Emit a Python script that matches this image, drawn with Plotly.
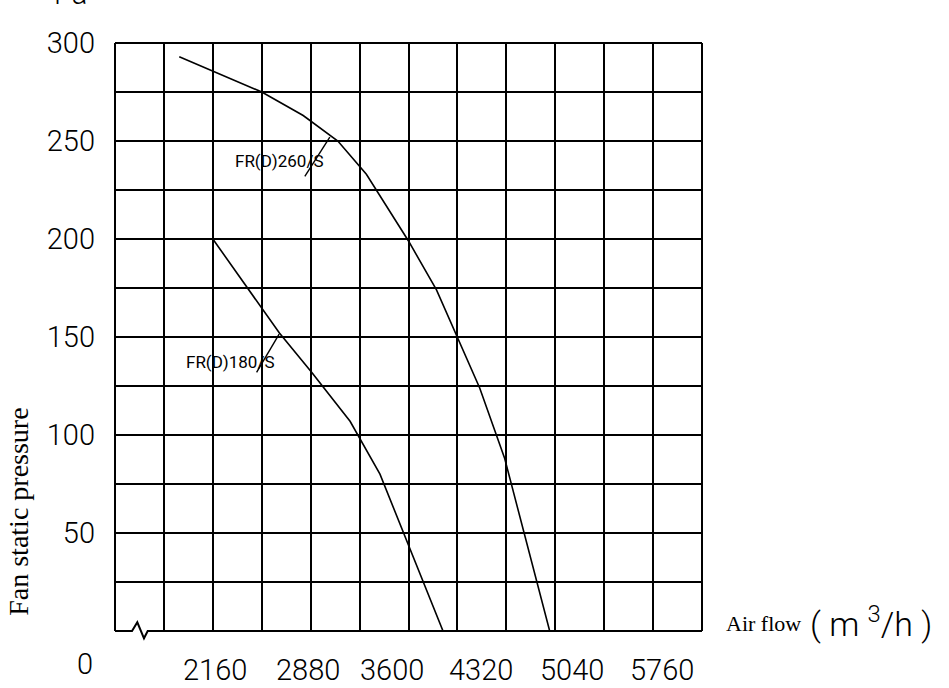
import plotly.graph_objects as go

# ---------------- data ----------------
fr260_flow = [1913, 2520, 2825, 3080, 3290, 3600, 3806, 3965, 4124, 4308, 4639]
fr260_pressure = [293, 275, 263, 250, 233, 199, 174, 149, 124, 88, 0]

fr180_flow = [2160, 2650, 2887, 3170, 3390, 3854]
fr180_pressure = [200, 152, 132, 107, 80, 0]

x_tick_values = [2160, 2880, 3600, 4320, 5040, 5760]
x_tick_labels = ["2160", "2880", "3600", "4320", "5040", "5760"]
y_tick_values = [50, 100, 150, 200, 250, 300]
y_tick_labels = ["50", "100", "150", "200", "250", "300"]
y_minor_values = [25, 75, 125, 175, 225, 275]

series_names = ["FR(D)260/S", "FR(D)180/S"]

# ---------------- layout / style ----------------
NUM_FONT = "Roboto, Liberation Sans, sans-serif"
SERIF = "Liberation Serif, Times New Roman, serif"
X_MIN, X_MAX = 1440, 5760
# horizontal offsets (px) of the hand-placed x labels in the drawing
x_label_shift = [2, -3, -17, -25, -32, -40]

num_font = dict(family=NUM_FONT, size=29, color="black", weight=300)

fig = go.Figure()
fig.add_trace(go.Scatter(x=fr260_flow, y=fr260_pressure, mode="lines",
                         line=dict(color="black", width=1.6), name=series_names[0],
                         showlegend=False))
fig.add_trace(go.Scatter(x=fr180_flow, y=fr180_pressure, mode="lines",
                         line=dict(color="black", width=1.6), name=series_names[1],
                         showlegend=False))

fig.update_xaxes(range=[X_MIN, X_MAX], tickmode="linear", tick0=X_MIN, dtick=360,
                 showgrid=True, gridcolor="black", gridwidth=2,
                 showticklabels=False, zeroline=False, showline=False, ticks="")
fig.update_yaxes(range=[0, 300], tickvals=y_tick_values, ticktext=y_tick_labels,
                 showgrid=True, gridcolor="black", gridwidth=2,
                 minor=dict(tickvals=y_minor_values, showgrid=True,
                            gridcolor="black", gridwidth=2, ticks=""),
                 zeroline=False, showline=False, ticks="",
                 ticklabelstandoff=19, tickfont=num_font)

shapes = []
# frame (left, top, right)
shapes.append(dict(type="line", xref="paper", yref="paper", x0=0, y0=0, x1=0, y1=1,
                   line=dict(color="black", width=2)))
shapes.append(dict(type="line", xref="paper", yref="paper", x0=0, y0=1, x1=1, y1=1,
                   line=dict(color="black", width=2)))
shapes.append(dict(type="line", xref="paper", yref="paper", x0=1, y0=0, x1=1, y1=1,
                   line=dict(color="black", width=2)))
# bottom line with axis-break zigzag
shapes.append(dict(type="path", xref="paper", yref="paper",
                   path="M 0,0 L 0.029,0 L 0.038,0.0148 L 0.0494,-0.0124 L 0.0557,0 L 1,0",
                   line=dict(color="black", width=2)))
# leader lines for the curve labels
shapes.append(dict(type="line", xref="x", yref="y", x0=2837, y0=232, x1=3021, y1=252,
                   line=dict(color="black", width=1.4)))
shapes.append(dict(type="line", xref="x", yref="y", x0=2482, y0=132, x1=2648, y1=151.5,
                   line=dict(color="black", width=1.4)))

label_font = dict(family=NUM_FONT, size=17, color="black")
ann = []
ann.append(dict(x=2653, y=240, xref="x", yref="y", text=series_names[0], showarrow=False,
                xanchor="center", yanchor="middle", font=label_font))
ann.append(dict(x=2293, y=137, xref="x", yref="y", text=series_names[1], showarrow=False,
                xanchor="center", yanchor="middle", font=label_font))
for v, t, s in zip(x_tick_values, x_tick_labels, x_label_shift):
    ann.append(dict(x=v, y=-0.0664, xref="x", yref="paper", text=t, showarrow=False,
                    xshift=s, xanchor="center", yanchor="middle", font=num_font))
ann.append(dict(x=-0.051, y=-0.0567, xref="paper", yref="paper", text="0", showarrow=False,
                xanchor="center", yanchor="middle", font=num_font))
ann.append(dict(x=-0.075, y=1.051, xref="paper", yref="paper", text="Pa", showarrow=False,
                xanchor="center", yanchor="bottom", font=num_font))
ann.append(dict(x=1.105, y=0.0131, xref="paper", yref="paper", text="Air flow",
                showarrow=False, xanchor="center", yanchor="middle",
                font=dict(family=SERIF, size=22, color="black")))
ann.append(dict(x=1.288, y=0.0148, xref="paper", yref="paper",
                text="( m <sup>3</sup>/h )", showarrow=False, xanchor="center",
                yanchor="middle",
                font=dict(family=NUM_FONT, size=34, color="black", weight=300)))
ann.append(dict(x=-0.165, y=0.203, xref="paper", yref="paper", text="Fan static pressure",
                showarrow=False, textangle=-90, xanchor="center", yanchor="middle",
                font=dict(family=SERIF, size=28, color="black")))

fig.update_layout(width=949, height=688,
                  margin=dict(l=115, r=246.6, t=43.3, b=57.3),
                  paper_bgcolor="white", plot_bgcolor="white",
                  shapes=shapes, annotations=ann, showlegend=False)

fig.write_html("out.html", config={"displayModeBar": False},
               post_script="document.body.style.margin='0';document.body.style.overflow='hidden';")
